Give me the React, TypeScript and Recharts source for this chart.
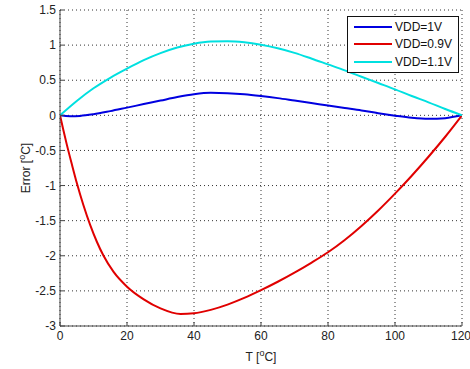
import React from 'react';
import { LineChart, Line, XAxis, YAxis, CartesianGrid, Legend, Label } from 'recharts';

const xTicks = [0, 20, 40, 60, 80, 100, 120];
const yTicks = [-3, -2.5, -2, -1.5, -1, -0.5, 0, 0.5, 1, 1.5];

const tempVdd1 = [0, 3, 6, 10, 15, 20, 25, 30, 35, 40, 45, 50, 55, 60, 65, 70, 75, 80, 85, 90, 95, 100, 105, 110, 115, 120];
const errVdd1 = [0, -0.012, -0.008, 0.015, 0.06, 0.11, 0.16, 0.21, 0.26, 0.3, 0.32, 0.315, 0.3, 0.275, 0.245, 0.21, 0.175, 0.14, 0.105, 0.07, 0.03, -0.005, -0.035, -0.05, -0.04, 0];

const tempVdd09 = [0, 1, 2, 3.5, 5, 7, 9, 11, 13, 16, 20, 25, 30, 36, 40, 45, 50, 55, 60, 65, 70, 75, 80, 85, 90, 95, 100, 105, 110, 115, 120];
const errVdd09 = [0, -0.21, -0.41, -0.69, -0.96, -1.28, -1.56, -1.8, -2.0, -2.23, -2.44, -2.62, -2.75, -2.83, -2.82, -2.77, -2.695, -2.6, -2.49, -2.37, -2.24, -2.1, -1.95, -1.775, -1.575, -1.355, -1.115, -0.86, -0.59, -0.305, 0];

const tempVdd11 = [0, 5, 10, 15, 20, 25, 30, 35, 40, 45, 50, 55, 60, 65, 70, 75, 80, 85, 90, 95, 100, 105, 110, 115, 120];
const errVdd11 = [0, 0.205, 0.385, 0.535, 0.665, 0.785, 0.885, 0.965, 1.02, 1.05, 1.055, 1.04, 1.005, 0.955, 0.89, 0.81, 0.725, 0.64, 0.55, 0.46, 0.37, 0.275, 0.185, 0.09, 0];

const seriesNames = ['VDD=1V', 'VDD=0.9V', 'VDD=1.1V'];
const seriesColors = ['#0000e0', '#e00000', '#00e0e0'];

const toRows = (t: number[], v: number[]) => t.map((T, i) => ({ T, v: v[i] }));
const dataVdd1 = toRows(tempVdd1, errVdd1);
const dataVdd09 = toRows(tempVdd09, errVdd09);
const dataVdd11 = toRows(tempVdd11, errVdd11);

const FONT = '"Liberation Sans", Arial, sans-serif';

const XLabel = (props: any) => {
  const vb = props.viewBox || {};
  const cx = vb.x + vb.width / 2;
  return (
    <text x={cx} y={361} textAnchor="middle" fontFamily={FONT} fontSize={12} fill="#222">
      <tspan>T [</tspan>
      <tspan dy={-5} fontSize={9}>o</tspan>
      <tspan dy={5}>C]</tspan>
    </text>
  );
};

const YLabel = (props: any) => {
  const vb = props.viewBox || {};
  const cy = vb.y + vb.height / 2;
  const x = 30;
  return (
    <text x={x} y={cy} transform={`rotate(-90, ${x}, ${cy})`} textAnchor="middle" fontFamily={FONT} fontSize={12} fill="#222">
      <tspan>Error [</tspan>
      <tspan dy={-5} fontSize={9}>o</tspan>
      <tspan dy={5}>C]</tspan>
    </text>
  );
};

const LegendBox = (props: any) => {
  const payload = [...(props.payload || [])].sort(
    (a: any, b: any) => seriesNames.indexOf(a.value) - seriesNames.indexOf(b.value)
  );
  return (
    <div style={{ width: 110, height: 55, border: '1px solid #111', background: '#fff', boxSizing: 'content-box', position: 'relative' }}>
      {payload.map((p: any, i: number) => (
        <div key={i} style={{ position: 'absolute', left: 6, top: 1 + i * 17.5, height: 17, display: 'flex', alignItems: 'center' }}>
          <div style={{ width: 38, height: 2, background: p.color }} />
          <span style={{ marginLeft: 3, fontFamily: FONT, fontSize: 12, color: '#111' }}>{p.value}</span>
        </div>
      ))}
    </div>
  );
};

export default function App() {
  return (
    <div style={{ position: 'absolute', left: 0, top: 0, width: 470, height: 369, background: '#fff' }}>
      <LineChart width={470} height={369} margin={{ top: 10, right: 8, bottom: 0, left: 0 }}>
        <CartesianGrid stroke="#333" strokeDasharray="1 3" />
        <XAxis
          type="number"
          dataKey="T"
          domain={[0, 120]}
          ticks={xTicks}
          allowDataOverflow
          height={43}
          stroke="#444"
          tickSize={-4}
          tickMargin={9}
          tick={{ fill: '#222', fontSize: 12, fontFamily: FONT }}
          label={<Label content={XLabel} />}
        />
        <YAxis
          type="number"
          domain={[-3, 1.5]}
          ticks={yTicks}
          allowDataOverflow
          width={60}
          stroke="#444"
          tickSize={-4}
          tickMargin={8}
          tick={{ fill: '#222', fontSize: 12, fontFamily: FONT }}
          label={<Label content={YLabel} />}
        />
        <Legend
          layout="horizontal"
          verticalAlign="middle"
          align="center"
          itemSorter={null as any}
          content={LegendBox}
          wrapperStyle={{ position: 'absolute', left: 347, top: 16, width: 112, height: 57 }}
        />
        <Line data={dataVdd1} dataKey="v" name={seriesNames[0]} type="monotone" stroke={seriesColors[0]} strokeWidth={2} dot={false} isAnimationActive={false} />
        <Line data={dataVdd09} dataKey="v" name={seriesNames[1]} type="monotone" stroke={seriesColors[1]} strokeWidth={2} dot={false} isAnimationActive={false} />
        <Line data={dataVdd11} dataKey="v" name={seriesNames[2]} type="monotone" stroke={seriesColors[2]} strokeWidth={2} dot={false} isAnimationActive={false} />
      </LineChart>
    </div>
  );
}
